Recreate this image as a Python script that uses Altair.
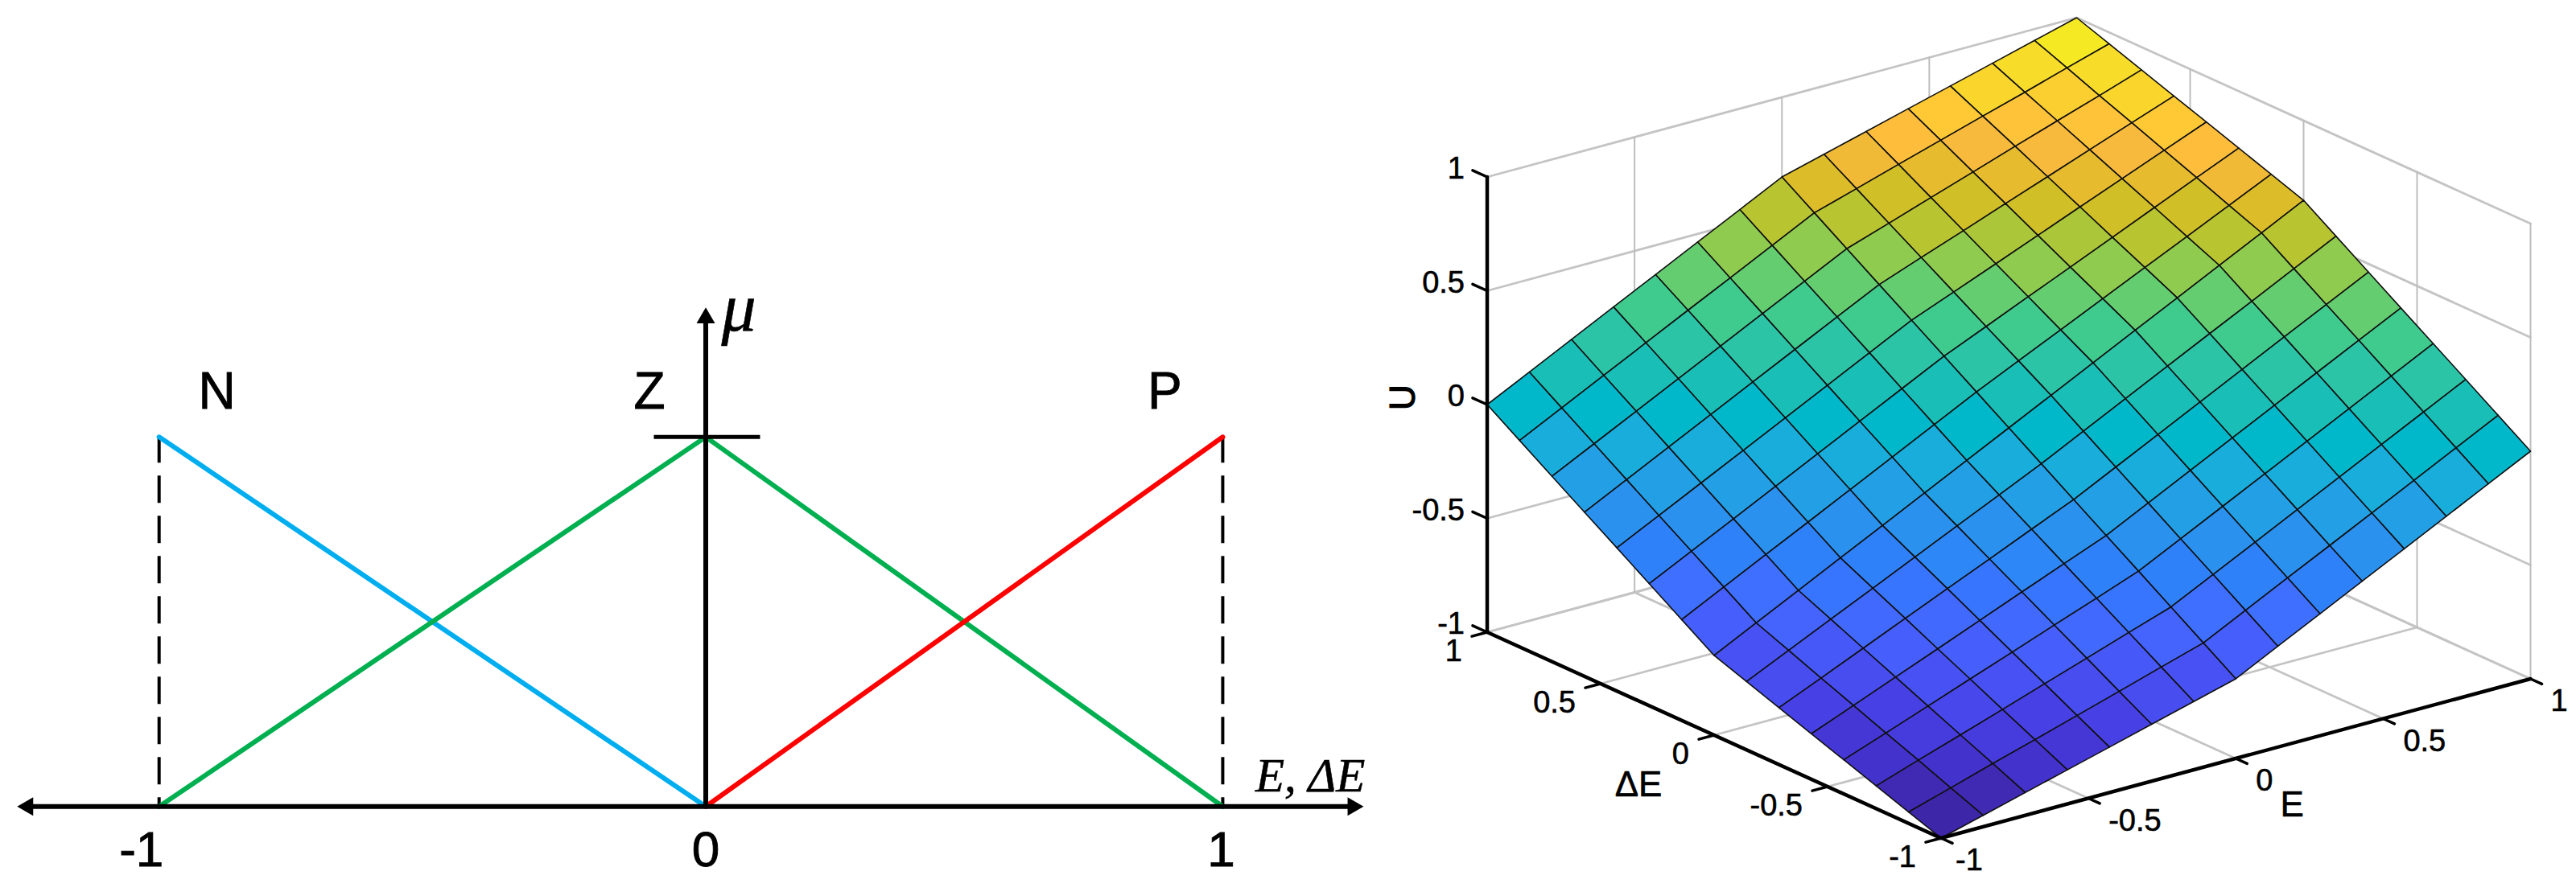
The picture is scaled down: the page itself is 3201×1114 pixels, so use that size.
import altair as alt
import pandas as pd

# ---------- left panel: membership functions ----------
MF_NAMES = ["N", "Z", "P"]
MF_X = {"N": [-1, 0], "Z": [-1, 0, 1], "P": [0, 1]}
MF_Y = {"N": [1, 0], "Z": [0, 1, 0], "P": [0, 1]}
MF_COLORS = {"N": "#00aeef", "Z": "#00b050", "P": "#ff0000"}
TICK_VALUES = [-1, 0, 1]
TICK_LABELS = ["-1", "0", "1"]

# ---------- right panel: control surface ----------
GRID = [-1, -6/7, -5/7, -4/7, -3/7, -2/7, -1/7, 0, 1/7, 2/7, 3/7, 4/7, 5/7, 6/7, 1]
# one row per dE (from -1 to 1), one column per E (from -1 to 1)
U = [
 [-1.000,-.950,-.900,-.850,-.800,-.750,-.700,-.650,-.557,-.464,-.371,-.279,-.186,-.093,0.000],
 [-.950,-.894,-.837,-.782,-.726,-.670,-.613,-.557,-.464,-.371,-.279,-.186,-.093,0.000,.093],
 [-.900,-.837,-.776,-.714,-.651,-.589,-.526,-.464,-.371,-.279,-.186,-.093,0.000,.093,.186],
 [-.850,-.782,-.714,-.645,-.577,-.508,-.440,-.371,-.279,-.186,-.093,0.000,.093,.186,.279],
 [-.800,-.726,-.651,-.577,-.502,-.427,-.353,-.279,-.186,-.093,0.000,.093,.186,.279,.371],
 [-.750,-.670,-.589,-.508,-.427,-.347,-.266,-.186,-.093,0.000,.093,.186,.279,.371,.464],
 [-.700,-.613,-.526,-.440,-.353,-.266,-.180,-.093,0.000,.093,.186,.279,.371,.464,.557],
 [-.650,-.557,-.464,-.371,-.279,-.186,-.093,0.000,.093,.186,.279,.371,.464,.557,.650],
 [-.557,-.464,-.371,-.279,-.186,-.093,0.000,.093,.180,.266,.353,.440,.526,.613,.700],
 [-.464,-.371,-.279,-.186,-.093,0.000,.093,.186,.266,.347,.427,.508,.589,.670,.750],
 [-.371,-.279,-.186,-.093,0.000,.093,.186,.279,.353,.427,.502,.577,.651,.726,.800],
 [-.279,-.186,-.093,0.000,.093,.186,.279,.371,.440,.508,.577,.645,.714,.782,.850],
 [-.186,-.093,0.000,.093,.186,.279,.371,.464,.526,.589,.651,.714,.776,.837,.900],
 [-.093,0.000,.093,.186,.279,.371,.464,.557,.613,.670,.726,.782,.837,.894,.950],
 [0.000,.093,.186,.279,.371,.464,.557,.650,.700,.750,.800,.850,.900,.950,1.000],
]
AXIS_TICKS = [-1, -0.5, 0, 0.5, 1]
AXIS_TICK_LABELS = ["-1", "-0.5", "0", "0.5", "1"]

PARULA = [
 (.2422,.1504,.6603),(.2504,.1650,.7076),(.2578,.1818,.7511),(.2647,.1978,.7952),
 (.2706,.2147,.8364),(.2751,.2342,.8710),(.2783,.2559,.8991),(.2803,.2782,.9221),
 (.2813,.3006,.9414),(.2810,.3228,.9579),(.2795,.3447,.9717),(.2760,.3667,.9829),
 (.2699,.3892,.9906),(.2602,.4123,.9952),(.2440,.4358,.9988),(.2206,.4603,.9973),
 (.1963,.4847,.9892),(.1834,.5074,.9798),(.1786,.5289,.9682),(.1764,.5499,.9520),
 (.1687,.5703,.9359),(.1540,.5902,.9218),(.1460,.6091,.9079),(.1380,.6276,.8973),
 (.1248,.6459,.8883),(.1113,.6635,.8763),(.0952,.6798,.8598),(.0689,.6948,.8394),
 (.0297,.7082,.8163),(.0036,.7203,.7917),(.0067,.7312,.7660),(.0433,.7411,.7394),
 (.0964,.7500,.7120),(.1408,.7584,.6842),(.1717,.7670,.6554),(.1938,.7758,.6251),
 (.2161,.7843,.5923),(.2470,.7918,.5567),(.2906,.7973,.5188),(.3406,.8008,.4789),
 (.3909,.8029,.4354),(.4456,.8024,.3909),(.5044,.7993,.3480),(.5616,.7942,.3045),
 (.6174,.7876,.2612),(.6720,.7793,.2227),(.7242,.7698,.1910),(.7738,.7598,.1646),
 (.8203,.7498,.1535),(.8634,.7406,.1596),(.9035,.7330,.1774),(.9393,.7288,.2100),
 (.9728,.7298,.2394),(.9956,.7434,.2371),(.9970,.7659,.2199),(.9952,.7893,.2028),
 (.9892,.8136,.1885),(.9786,.8386,.1766),(.9676,.8639,.1643),(.9610,.8890,.1537),
 (.9597,.9135,.1423),(.9628,.9373,.1265),(.9691,.9606,.1064),(.9769,.9839,.0805),
]
PARULA_HEX = ["#%02x%02x%02x" % tuple(round(c * 255) for c in rgb) for rgb in PARULA]

SANS = "Liberation Sans"
SERIF = "Liberation Serif"

LEFT_W, RIGHT_W, H = 1690, 1495, 1098
MARGIN = 8

# ---------- left panel ----------
xs = alt.Scale(domain=[-1, 0, 1], range=[197.7 - MARGIN, 877 - MARGIN, 1519.4 - MARGIN])
ys = alt.Scale(domain=[0, 1], range=[1002.7 - MARGIN, 543.3 - MARGIN])
X = alt.X("x:Q", scale=xs, axis=None)
Y = alt.Y("y:Q", scale=ys, axis=None)


def seg(xv, yv):
    return pd.DataFrame({"x": xv, "y": yv, "o": range(len(xv))})


def line(xv, yv, **kw):
    return alt.Chart(seg(xv, yv)).mark_line(**kw).encode(x=X, y=Y, order="o:Q")


def pt(xv, yv, shape):
    return alt.Chart(seg([xv], [yv])).mark_point(
        shape=shape, size=529, filled=True, fill="#000000", opacity=1, strokeWidth=0
    ).encode(x=X, y=Y)


def ltext(xv, yv, s, size, dx, dy, font=SANS, style="normal", align="center", weight=0.9):
    return alt.Chart(pd.DataFrame({"x": [xv], "y": [yv], "t": [s]})).mark_text(
        font=font, fontSize=size, fontStyle=style, align=align, baseline="alphabetic",
        dx=dx, dy=dy, color="#000000", stroke="#000000", strokeWidth=weight
    ).encode(x=X, y=Y, text="t:N")


left_layers = [
    line([-1, -1], [1, 0], color="#000000", strokeWidth=4, strokeDash=[34, 16], strokeDashOffset=2),
    line([1, 1], [1, 0], color="#000000", strokeWidth=4, strokeDash=[34, 16], strokeDashOffset=2),
]
for name in MF_NAMES:
    left_layers.append(line(MF_X[name], MF_Y[name], color=MF_COLORS[name], strokeWidth=6, strokeCap="round"))
left_layers += [
    line([-1.24, 1.25], [0, 0], color="#000000", strokeWidth=6),
    line([0, 0], [0, 1.31], color="#000000", strokeWidth=6),
    line([-0.095, 0.105], [1, 1], color="#000000", strokeWidth=5),
    pt(0, 1.329, "triangle-up"),
    pt(-1.245, 0, "triangle-left"),
    pt(1.257, 0, "triangle-right"),
]
for name, xv, dx in zip(MF_NAMES, TICK_VALUES, [72, -70, -72]):
    left_layers.append(ltext(xv, 1, name, 64, dx, -35))
for xv, lab, dx in zip(TICK_VALUES, TICK_LABELS, [-22, 0, -2]):
    left_layers.append(ltext(xv, 0, lab, 62, dx, 74))
left_layers.append(ltext(0, 1, "\u03bc", 86, 41, -132, font=SERIF, style="italic", weight=0.6))
left_layers.append(ltext(1, 0, "E, \u0394E", 59, 40.6, -19, font=SERIF, style="italic", align="left", weight=0.6))

left = alt.layer(*left_layers).properties(width=LEFT_W, height=H)

# ---------- right panel ----------
E_VEC = (366.25, 99.0)
D_VEC = (-282.0, 128.0)
Z_VEC = 283.0


def proj(e, d, z):
    return [E_VEC[0] * e + D_VEC[0] * d, E_VEC[1] * e + D_VEC[1] * d + Z_VEC * z]


PROJECTION = dict(
    type="identity", reflectY=True, scale=1,
    translate=[2496.25 - LEFT_W - MARGIN, 532 - MARGIN],
)


def features(items):
    return alt.InlineData(
        values={"type": "FeatureCollection", "features": items},
        format=alt.DataFormat(type="json", property="features"),
    )


def polyline(points):
    return {
        "type": "Feature", "properties": {},
        "geometry": {"type": "LineString", "coordinates": [proj(*p) for p in points]},
    }


def lines(items, color, width):
    return alt.Chart(features([polyline(p) for p in items])).mark_geoshape(
        filled=False, stroke=color, strokeWidth=width, strokeCap="round"
    ).project(**PROJECTION)


T = AXIS_TICKS
thick = []
for z in T:
    thick.append([(-1, 1, z), (1, 1, z), (1, -1, z)])
for v in T[1:]:
    thick.append([(v, -1, -1), (v, 1, -1)])
    thick.append([(-1, v, -1), (1, v, -1)])
thin = []
for v in T[1:]:
    thin.append([(v, 1, -1), (v, 1, 1)])
for v in T[:-1]:
    thin.append([(1, v, -1), (1, v, 1)])

cells = []
n = len(GRID)
for j in range(n - 2, -1, -1):
    for i in range(n - 2, -1, -1):
        ring = [(i, j), (i + 1, j), (i + 1, j + 1), (i, j + 1), (i, j)]
        cells.append({
            "type": "Feature",
            "properties": {"u": U[j][i]},
            "geometry": {"type": "Polygon", "coordinates": [[proj(GRID[a], GRID[b], U[b][a]) for a, b in ring]]},
        })

surface = alt.Chart(features(cells)).mark_geoshape(
    stroke="#101010", strokeWidth=1.6, strokeJoin="round"
).encode(
    color=alt.Color("properties.u:Q", legend=None,
                    scale=alt.Scale(type="quantize", domain=[-1, 1], range=PARULA_HEX))
).project(**PROJECTION)

edges = [[(-1, 1, -1), (-1, 1, 1)], [(-1, 1, -1), (-1, -1, -1), (1, -1, -1)]]
ticks = []
for v in T:
    ticks.append([(-1, 1, v), (-1, 1.064, v)])
    ticks.append([(-1, v, -1), (-1.052, v, -1)])
    ticks.append([(v, -1, -1), (v, -1.05, -1)])


def rtext(e, d, z, s, size, dx, dy, align="center", angle=0, weight=0.6):
    lon, lat = proj(e, d, z)
    mark = dict(font=SANS, fontSize=size, align=align, baseline="alphabetic",
                dx=dx, dy=dy, color="#000000", stroke="#000000", strokeWidth=weight)
    if angle:
        mark["angle"] = angle
    return alt.Chart(pd.DataFrame({"lon": [lon], "lat": [lat], "t": [s]})).mark_text(**mark).encode(
        longitude="lon:Q", latitude="lat:Q", text="t:N"
    ).project(**PROJECTION)


right_layers = [lines(thick, "#c4c4c4", 2.8), lines(thin, "#bdbdbd", 2), surface,
                lines(edges, "#000000", 4.5), lines(ticks, "#000000", 3.5)]
for v, lab, in zip(T, AXIS_TICK_LABELS):
    right_layers.append(rtext(-1, 1, v, lab, 38, -28, 2, align="right"))
    right_layers.append(rtext(-1, v, -1, lab, 38, -31, 36, align="right"))
    right_layers.append(rtext(v, -1, -1, lab, 38, 18 if v == -1 else 25, 40, align="left"))
right_layers.append(rtext(-1, 1, 0, "U", 44, 9, -90, angle=270, weight=1.2))
right_layers.append(rtext(-1, 0, -1, "\u0394E", 44, -94, 76))
right_layers.append(rtext(0, -1, -1, "E", 44, 70, 72))

right = alt.layer(*right_layers).properties(width=RIGHT_W, height=H)

chart = alt.hconcat(left, right, spacing=0, padding=0).configure_view(stroke=None)
chart.save("out.html", embed_options={"renderer": "svg", "actions": False})
